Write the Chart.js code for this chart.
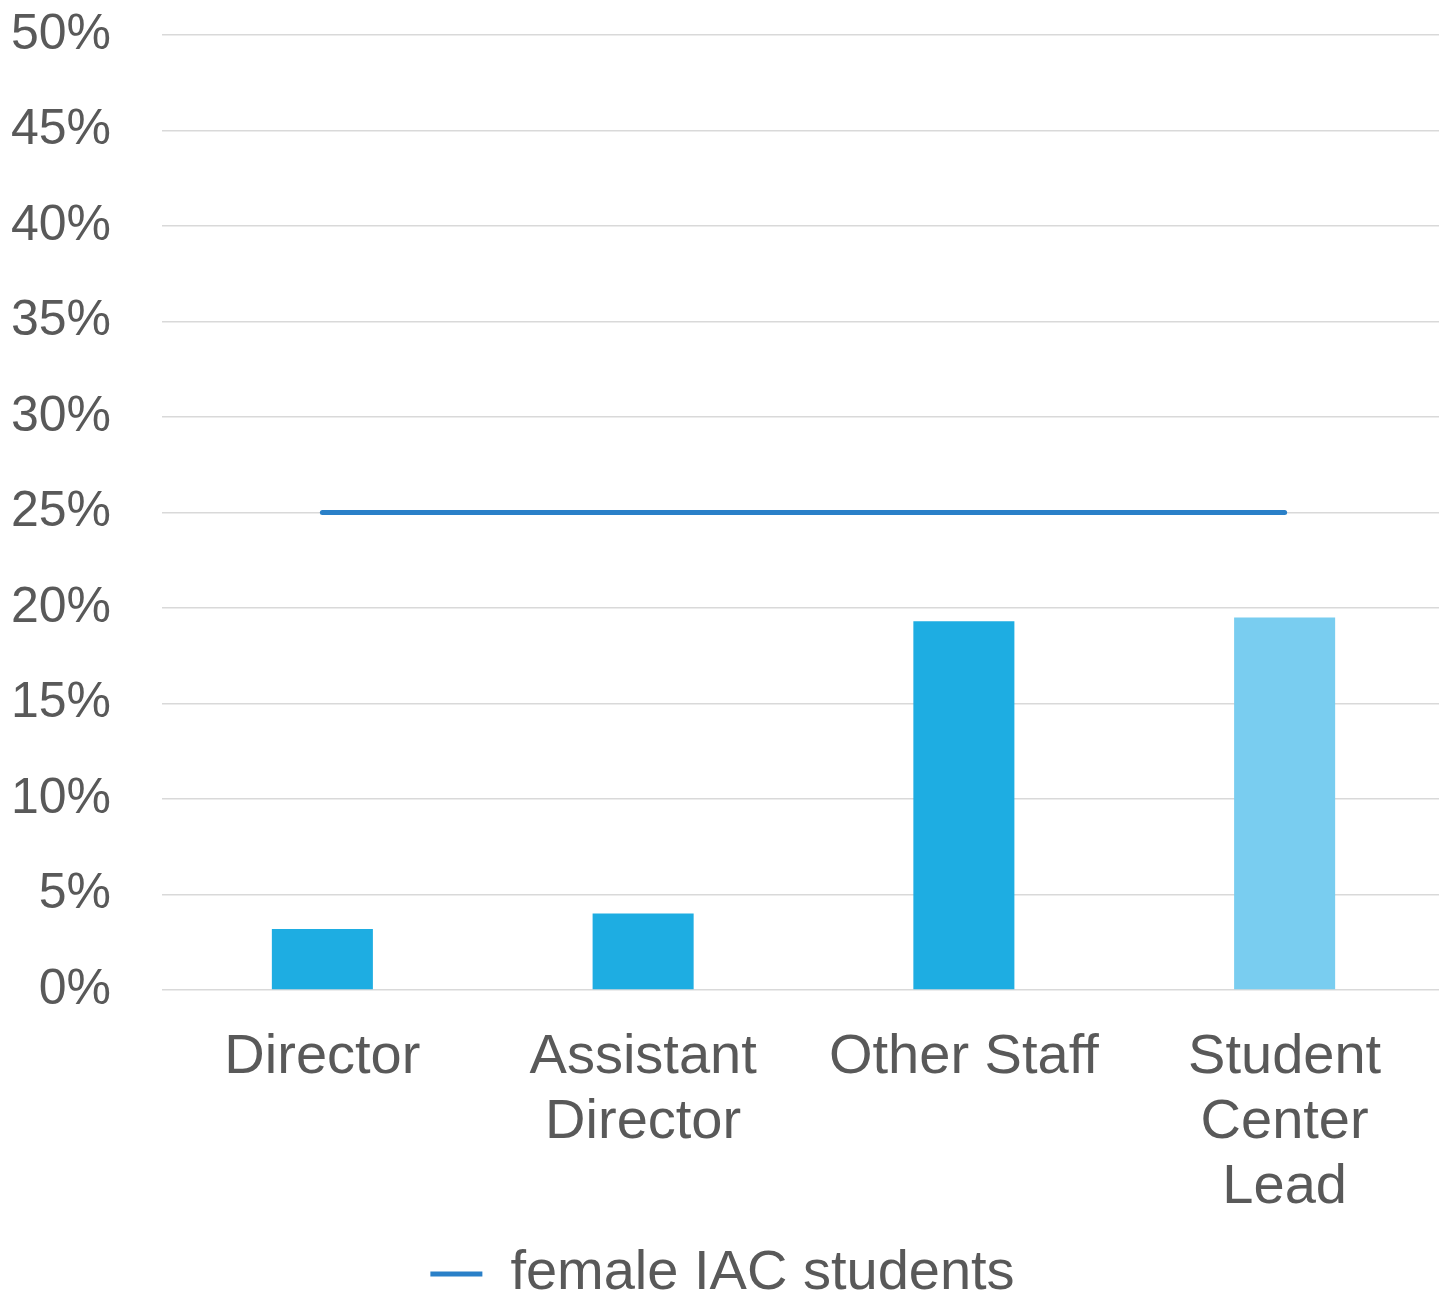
<!DOCTYPE html>
<html>
<head>
<meta charset="utf-8">
<script src="https://cdn.jsdelivr.net/npm/chart.js@4/dist/chart.umd.min.js"></script>
<style>
  html, body { margin: 0; padding: 0; background: #ffffff; overflow: hidden; }
  #wrap { position: relative; width: 1445px; height: 1297px; }
</style>
</head>
<body>
<div id="wrap"><canvas id="c" width="1445" height="1297"></canvas></div>
<script>
const categories = [["Director"], ["Assistant", "Director"], ["Other Staff"], ["Student", "Center", "Lead"]];
const staffShare = [3.2, 4.0, 19.3, 19.5];
const femaleStudents = [25, 25, 25, 25];
const seriesLabel = "female IAC students";
const yTicks = [0, 5, 10, 15, 20, 25, 30, 35, 40, 45, 50];

const FONT = "'Liberation Sans', Arial, sans-serif";
const TEXT = "#595959";

new Chart(document.getElementById('c'), {
  data: {
    labels: categories,
    datasets: [
      {
        type: 'line',
        label: seriesLabel,
        data: femaleStudents,
        borderColor: '#2a80c8',
        backgroundColor: '#2a80c8',
        borderWidth: 5,
        borderCapStyle: 'round',
        pointRadius: 0,
        pointHoverRadius: 0,
        fill: false,
        order: 0
      },
      {
        type: 'bar',
        label: 'staff',
        data: staffShare,
        backgroundColor: ['#1eade2', '#1eade2', '#1eade2', '#79cdf0'],
        borderWidth: 0,
        categoryPercentage: 1,
        barPercentage: 0.315,
        order: 1
      }
    ]
  },
  options: {
    responsive: false,
    animation: false,
    layout: { padding: { top: 35, left: 0, right: 0, bottom: -15 } },
    plugins: {
      tooltip: { enabled: false },
      legend: {
        position: 'bottom',
        labels: {
          filter: (item) => item.text === seriesLabel,
          usePointStyle: true,
          pointStyle: 'line',
          pointStyleWidth: 52,
          boxHeight: 5,
          padding: 0,
          color: TEXT,
          font: { family: FONT, size: 56, lineHeight: 1 }
        }
      }
    },
    scales: {
      x: {
        grid: { display: false, drawTicks: false },
        border: { display: false },
        ticks: {
          color: TEXT,
          padding: 35,
          maxRotation: 0,
          autoSkip: false,
          font: { family: FONT, size: 56, lineHeight: 1.16 }
        },
        afterFit: (s) => { s.height = 256; }
      },
      y: {
        min: 0,
        max: 50,
        afterBuildTicks: (s) => { s.ticks = yTicks.map(v => ({ value: v })); },
        grid: { color: '#d9d9d9', lineWidth: 1.5, drawTicks: false },
        border: { display: false },
        ticks: {
          color: TEXT,
          padding: 51,
          callback: (v) => v + '%',
          font: { family: FONT, size: 50 }
        },
        afterFit: (s) => { s.width = 162; s.paddingTop = 0; s.paddingBottom = 0; }
      }
    }
  }
});
</script>
</body>
</html>
